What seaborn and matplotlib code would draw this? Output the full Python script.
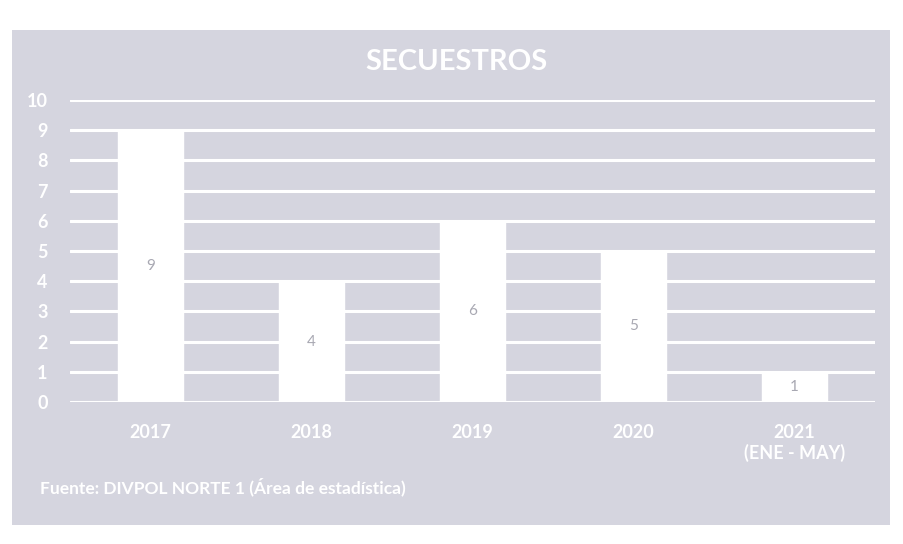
import matplotlib
matplotlib.use("Agg")
import matplotlib.pyplot as plt
from matplotlib.patches import Rectangle
import seaborn as sns
import pandas as pd

years = ["2017", "2018", "2019", "2020", "2021\n(ENE - MAY)"]
secuestros = [9, 4, 6, 5, 1]
y_ticks = list(range(0, 11))

title = "SECUESTROS"
source = "Fuente: DIVPOL NORTE 1 (Área de estadística)"

panel = "#d5d5df"
sns.set_theme(style="white")
plt.rcParams["font.family"] = ["Lato", "DejaVu Sans"]

fig = plt.figure(figsize=(9.04, 5.44), dpi=100)
fig.patch.set_facecolor("white")
fig.patches.append(Rectangle((12 / 904, 1 - 525 / 544), 878 / 904, 495 / 544,
                             transform=fig.transFigure, facecolor=panel,
                             edgecolor="none", zorder=-5))

ax = fig.add_axes([70 / 904, 1 - 402 / 544, 805 / 904, 302 / 544])
ax.set_zorder(2)
ax.set_facecolor("none")

df = pd.DataFrame({"year": years, "value": secuestros})
sns.barplot(data=df, x="year", y="value", color="white", saturation=1,
            width=0.4, ax=ax, zorder=3)

ax.set_ylim(0, 10)
ax.set_yticks(y_ticks)
for y in y_ticks:
    ax.axhline(y, color="white", lw=2.2, zorder=1)

for spine in ax.spines.values():
    spine.set_visible(False)
ax.set_xlabel("")
ax.set_ylabel("")
ax.tick_params(axis="y", length=0, pad=16, labelsize=13, labelcolor="white")
ax.tick_params(axis="x", length=0, pad=16, labelsize=13, labelcolor="white")
for lbl in ax.get_yticklabels() + ax.get_xticklabels():
    lbl.set_fontweight("bold")

for bar, v in zip(ax.patches, secuestros):
    ax.text(bar.get_x() + bar.get_width() / 2, v / 2, str(v),
            ha="center", va="center", fontsize=11, color="#a8a8b2", zorder=4)

fig.text(0.505, 1 - 62 / 544, title, ha="center", va="center",
         fontsize=21, fontweight="bold", color="white", zorder=3)
fig.text(40 / 904, 1 - 487 / 544, source, ha="left", va="center",
         fontsize=12.5, fontweight="bold", color="white", zorder=3)

fig.savefig("out.png", dpi=100, facecolor="white")
